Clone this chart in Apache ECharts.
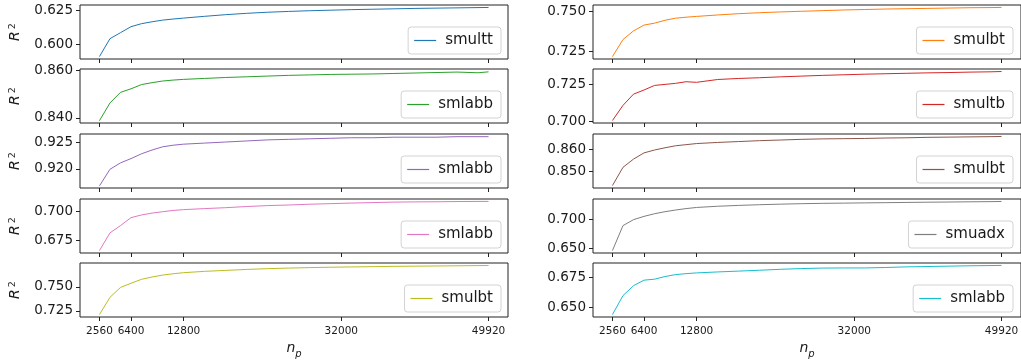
<!DOCTYPE html>
<html>
<head>
<meta charset="utf-8">
<script src="https://cdn.jsdelivr.net/npm/echarts@6/dist/echarts.min.js"></script>
<style>
  html, body { margin: 0; padding: 0; background: #fff; }
  #main { width: 1021px; height: 361px; }
</style>
</head>
<body>
<div id="main"></div>
<script>
// n_p values (x axis)
var np = [2560, 3840, 5120, 6400, 7680, 8960, 10240, 11520, 12800, 15360, 17920, 20480,
  23040, 25600, 28160, 30720, 33280, 35840, 38400, 40960, 43520, 46080, 48640, 49920]
var xTicks = [2560, 6400, 12800, 32000, 49920]

// R^2 per panel, left column top to bottom
var smulttBlue = [0.5913, 0.6044, 0.6088, 0.6132, 0.6154, 0.6168, 0.6180, 0.6188, 0.6195, 0.6208, 0.6220, 0.6230,
  0.6238, 0.6244, 0.6249, 0.6253, 0.6257, 0.6260, 0.6263, 0.6266, 0.6268, 0.6270, 0.6272, 0.6273]
var smlabbGreen = [0.8388, 0.8463, 0.8508, 0.8523, 0.8541, 0.8549, 0.8556, 0.8560, 0.8563, 0.8567, 0.8571, 0.8574,
  0.8577, 0.8580, 0.8582, 0.8584, 0.8585, 0.8586, 0.8588, 0.8590, 0.8592, 0.8594, 0.8591, 0.8595]
var smlabbPurple = [0.9168, 0.9199, 0.9211, 0.9219, 0.9228, 0.9235, 0.9241, 0.9244, 0.9246, 0.9248, 0.9250, 0.9252,
  0.9254, 0.9255, 0.9256, 0.9257, 0.9258, 0.9258, 0.9259, 0.9259, 0.9259, 0.9260, 0.9260, 0.9260]
var smlabbPink = [0.6661, 0.6814, 0.6877, 0.6946, 0.6969, 0.6985, 0.6997, 0.7008, 0.7015, 0.7024, 0.7032, 0.7042,
  0.7050, 0.7055, 0.7062, 0.7067, 0.7072, 0.7076, 0.7080, 0.7082, 0.7083, 0.7085, 0.7086, 0.7086]
var smulbtOlive = [0.7212, 0.7391, 0.7494, 0.7538, 0.7579, 0.7603, 0.7623, 0.7637, 0.7648, 0.7662, 0.7672, 0.7682,
  0.7690, 0.7696, 0.7701, 0.7705, 0.7708, 0.7711, 0.7714, 0.7716, 0.7718, 0.7720, 0.7722, 0.7723]

// right column top to bottom
var smulbtOrange = [0.7219, 0.7325, 0.7379, 0.7415, 0.7427, 0.7445, 0.7458, 0.7464, 0.7469, 0.7478, 0.7486, 0.7492,
  0.7497, 0.7501, 0.7505, 0.7509, 0.7512, 0.7515, 0.7517, 0.7519, 0.7521, 0.7523, 0.7524, 0.7525]
var smultbRed = [0.7008, 0.7110, 0.7186, 0.7214, 0.7245, 0.7252, 0.7259, 0.7270, 0.7266, 0.7285, 0.7292, 0.7297,
  0.7303, 0.7308, 0.7313, 0.7317, 0.7321, 0.7324, 0.7327, 0.7330, 0.7332, 0.7335, 0.7337, 0.7339]
var smulbtBrown = [0.8436, 0.8518, 0.8555, 0.8583, 0.8596, 0.8606, 0.8615, 0.8620, 0.8625, 0.8630, 0.8634, 0.8638,
  0.8641, 0.8644, 0.8646, 0.8647, 0.8648, 0.8650, 0.8651, 0.8653, 0.8654, 0.8655, 0.8656, 0.8657]
var smuadxGray = [0.6460, 0.6896, 0.7000, 0.7058, 0.7104, 0.7140, 0.7169, 0.7194, 0.7214, 0.7235, 0.7250, 0.7262,
  0.7272, 0.7280, 0.7286, 0.7290, 0.7294, 0.7298, 0.7302, 0.7306, 0.7309, 0.7313, 0.7316, 0.7319]
var smlabbCyan = [0.6443, 0.6600, 0.6682, 0.6728, 0.6736, 0.6758, 0.6774, 0.6782, 0.6788, 0.6796, 0.6803, 0.6810,
  0.6818, 0.6824, 0.6828, 0.6829, 0.6829, 0.6833, 0.6838, 0.6841, 0.6844, 0.6847, 0.6849, 0.6850]

// y tick labels per panel
var yTicksBlue = [0.600, 0.625]
var yTicksGreen = [0.840, 0.860]
var yTicksPurple = [0.920, 0.925]
var yTicksPink = [0.675, 0.700]
var yTicksOlive = [0.725, 0.750]
var yTicksOrange = [0.725, 0.750]
var yTicksRed = [0.700, 0.725]
var yTicksBrown = [0.850, 0.860]
var yTicksGray = [0.650, 0.700]
var yTicksCyan = [0.650, 0.675]

var FONT = 'DejaVu Sans'
var INK = '#1a1a1a'
var rowTops = [5, 69, 134, 199, 263]
var colLefts = [80, 593]
var panelH = 54
var panelW = 428

var panels = [
  { name: 'smultt', data: smulttBlue, color: '#1f77b4', col: 0, row: 0, ticks: yTicksBlue, range: [0.5895, 0.6291] },
  { name: 'smlabb', data: smlabbGreen, color: '#2ca02c', col: 0, row: 1, ticks: yTicksGreen, range: [0.8378, 0.8607] },
  { name: 'smlabb', data: smlabbPurple, color: '#9467bd', col: 0, row: 2, ticks: yTicksPurple, range: [0.9164, 0.9265] },
  { name: 'smlabb', data: smlabbPink, color: '#e377c2', col: 0, row: 3, ticks: yTicksPink, range: [0.6640, 0.7107] },
  { name: 'smulbt', data: smulbtOlive, color: '#bcbd22', col: 0, row: 4, ticks: yTicksOlive, range: [0.7186, 0.7749] },
  { name: 'smulbt', data: smulbtOrange, color: '#ff7f0e', col: 1, row: 0, ticks: yTicksOrange, range: [0.7204, 0.7540] },
  { name: 'smultb', data: smultbRed, color: '#d62728', col: 1, row: 1, ticks: yTicksRed, range: [0.6991, 0.7356] },
  { name: 'smulbt', data: smulbtBrown, color: '#8c564b', col: 1, row: 2, ticks: yTicksBrown, range: [0.8425, 0.8668] },
  { name: 'smuadx', data: smuadxGray, color: '#7f7f7f', col: 1, row: 3, ticks: yTicksGray, range: [0.6417, 0.7362] },
  { name: 'smlabb', data: smlabbCyan, color: '#17becf', col: 1, row: 4, ticks: yTicksCyan, range: [0.6423, 0.6870] }
]

var grids = [], xAxes = [], yAxes = [], series = [], legends = []

panels.forEach(function (p, i) {
  var top = rowTops[p.row]
  var left = colLefts[p.col]
  var bottomRow = p.row === 4
  var key = p.name + '#' + i // unique, so each legend gets its own colour

  grids.push({
    left: left, top: top, width: panelW, height: panelH,
    show: true, borderColor: '#222', borderWidth: 1, backgroundColor: 'transparent',
    containLabel: false, outerBoundsMode: 'none'
  })

  xAxes.push({
    type: 'value', gridIndex: i, min: 192, max: 52288,
    axisLine: { show: false },
    splitLine: { show: false },
    axisTick: { show: true, inside: false, length: 4, customValues: xTicks, lineStyle: { color: '#222', width: 1 } },
    axisLabel: {
      show: bottomRow, customValues: xTicks, margin: 9,
      fontFamily: FONT, fontSize: 10.5, color: INK,
      formatter: function (v) { return String(v) }
    },
    name: bottomRow ? '{i|n}{s|p}' : '',
    nameLocation: 'middle', nameGap: 24,
    nameTextStyle: {
      rich: {
        i: { fontFamily: FONT, fontStyle: 'italic', fontSize: 14, color: INK, verticalAlign: 'top' },
        s: { fontFamily: FONT, fontStyle: 'italic', fontSize: 10, color: INK, verticalAlign: 'top', padding: [8, 0, 0, 0] }
      }
    }
  })

  yAxes.push({
    type: 'value', gridIndex: i, min: p.range[0], max: p.range[1],
    axisLine: { show: false },
    splitLine: { show: false },
    axisTick: { show: true, inside: false, length: 4, customValues: p.ticks, lineStyle: { color: '#222', width: 1 } },
    axisLabel: {
      customValues: p.ticks, margin: 7,
      fontFamily: FONT, fontSize: 13.5, color: INK,
      formatter: function (v) { return v.toFixed(3) }
    },
    name: p.col === 0 ? '{i|R}{s|2}' : '',
    nameLocation: 'middle', nameRotate: 90, nameGap: 58,
    nameTextStyle: {
      rich: {
        i: { fontFamily: FONT, fontStyle: 'italic', fontSize: 14, color: INK, verticalAlign: 'bottom' },
        s: { fontFamily: FONT, fontSize: 9.5, color: INK, verticalAlign: 'top', padding: [0, 0, 0, 2] }
      }
    }
  })

  series.push({
    name: key, type: 'line', xAxisIndex: i, yAxisIndex: i,
    data: np.map(function (x, k) { return [x, p.data[k]] }),
    symbol: 'none', silent: true,
    lineStyle: { color: p.color, width: 1 },
    itemStyle: { color: p.color }
  })

  legends.push({
    data: [key], selectedMode: false,
    right: p.col === 0 ? 1021 - 501 : 1021 - 1013, top: top + 22,
    padding: [6, 8, 6, 6], icon: 'rect', itemWidth: 22, itemHeight: 1.2,
    backgroundColor: 'rgba(255,255,255,0.8)', borderColor: '#d3d3d3', borderWidth: 1, borderRadius: 3,
    textStyle: { fontFamily: FONT, fontSize: 15, lineHeight: 13, color: INK, padding: [0, 0, 0, 4] },
    formatter: function (n) { return n.split('#')[0] }
  })
})

var chart = echarts.init(document.getElementById('main'), null, { renderer: 'canvas' })
chart.setOption({
  animation: false,
  backgroundColor: '#fff',
  grid: grids,
  xAxis: xAxes,
  yAxis: yAxes,
  legend: legends,
  series: series
})
</script>
</body>
</html>
